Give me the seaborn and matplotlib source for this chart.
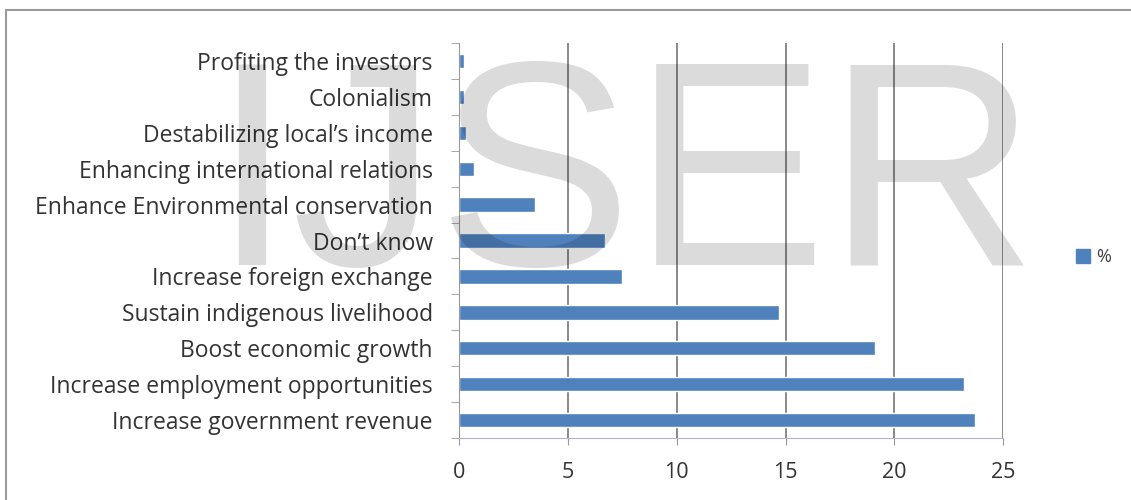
import matplotlib
matplotlib.use("Agg")
import matplotlib.pyplot as plt
import matplotlib.patches as mpatches
import seaborn as sns
import pandas as pd
import numpy as np

categories = [
    "Profiting the investors",
    "Colonialism",
    "Destabilizing local\u2019s income",
    "Enhancing international relations",
    "Enhance Environmental conservation",
    "Don\u2019t know",
    "Increase foreign exchange",
    "Sustain indigenous livelihood",
    "Boost economic growth",
    "Increase employment opportunities",
    "Increase government revenue",
]
values = [0.2, 0.2, 0.3, 0.7, 3.5, 6.7, 7.5, 14.7, 19.1, 23.2, 23.7]
xticks = [0, 5, 10, 15, 20, 25]
series_name = "%"

df = pd.DataFrame({"cat": categories, "val": values})

sns.set_style("white")
plt.rcParams["font.family"] = ["Open Sans", "DejaVu Sans"]

fig = plt.figure(figsize=(11.31, 5.0), dpi=100)
ax = fig.add_axes([0.406, 0.124, 0.481, 0.79])

bar_color = "#4F81BD"
sns.barplot(data=df, x="val", y="cat", orient="h", color=bar_color,
            width=0.4, ax=ax, saturation=1)

ax.set_xlim(0, 25)
ax.set_xticks(xticks)
ax.set_xticklabels([str(t) for t in xticks], fontsize=15.5, color="#333333")
ax.set_xlabel("")
ax.set_ylabel("")
n = len(categories)
ax.set_ylim(n - 0.5, -0.5)
ax.set_yticks(np.arange(-0.5, n, 1.0), minor=True)
ax.tick_params(axis="y", which="major", labelsize=16.5, labelcolor="#333333",
               length=0, pad=19)
ax.tick_params(axis="y", which="minor", length=6, direction="out",
               color="#999999", left=True)
ax.tick_params(axis="x", length=5, direction="out", color="#999999",
               bottom=True, pad=12)
ax.grid(axis="x", color="#808080", linewidth=1.3)
ax.set_axisbelow(True)
for s in ["top", "right"]:
    ax.spines[s].set_visible(False)
ax.spines["left"].set_color("#999999")
ax.spines["bottom"].set_color("#b4b4cc")

handle = mpatches.Patch(color=bar_color, label=series_name)
fig.legend(handles=[handle], loc="center left", bbox_to_anchor=(0.937, 0.485),
           frameon=False, fontsize=13, handlelength=0.8, handleheight=0.8,
           handletextpad=0.3, labelcolor="#404040")

# outer chart border (right and bottom edges lie outside the picture)
fig.patches.append(mpatches.Rectangle((0.005, -0.05), 1.2, 1.03,
                                      transform=fig.transFigure, fill=False,
                                      edgecolor="#9a9a9a", linewidth=1.5))

# watermark
fig.text(0.552, 0.47, "IJSER", fontsize=210, family="Liberation Sans",
         color="black", alpha=0.14, ha="center", va="baseline", zorder=10)

fig.savefig("out.png", dpi=100)
